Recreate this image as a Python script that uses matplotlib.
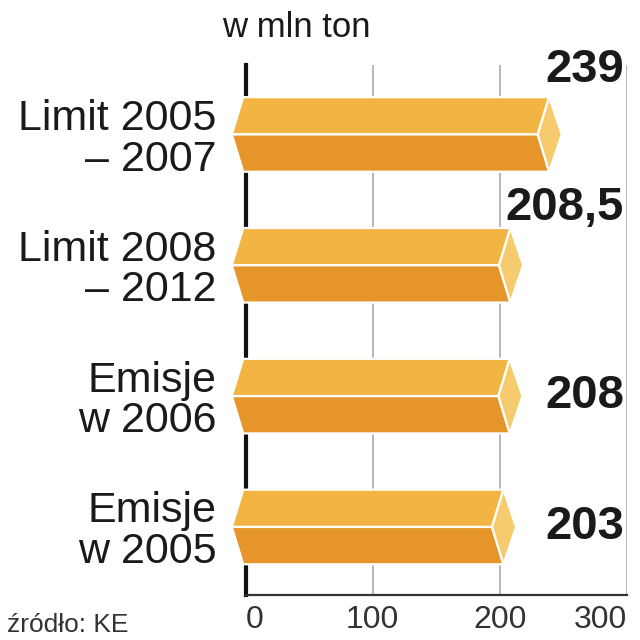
import matplotlib.pyplot as plt
from matplotlib.patches import Polygon

# dane
kategorie = ['Limit 2005\n– 2007', 'Limit 2008\n– 2012', 'Emisje\nw 2006', 'Emisje\nw 2005']
wartosci = [239, 208.5, 208, 203]
etykiety = ['239', '208,5', '208', '203']
ticki = [0, 100, 200, 300]

# kolory
jasny = '#F2B543'
ciemny = '#E6952A'
czolo = '#F6CB6E'

fig = plt.figure(figsize=(6.4, 6.4), dpi=100)
ax = fig.add_axes([0.384, 0.0703, 0.595, 0.828])

h = 0.285   # polowa wysokosci slupka
lt = 11     # szpic z lewej
rt = 9      # wciecie / szpic z prawej
for i, v in enumerate(wartosci):
    gora = [(-lt, i), (-2, i - h), (v, i - h), (v - rt, i)]
    dol = [(-lt, i), (-2, i + h), (v, i + h), (v - rt, i)]
    koniec = [(v, i - h), (v + rt + 1, i), (v, i + h), (v - rt, i)]
    for pts, c in [(gora, jasny), (dol, ciemny), (koniec, czolo)]:
        ax.add_patch(Polygon(pts, closed=True, facecolor=c, edgecolor='white',
                             linewidth=1.6, zorder=3, clip_on=False))

# etykiety wartosci: dwie pierwsze nad slupkiem
przes = [-0.49, -0.44, 0, 0]
for i, (t, dy) in enumerate(zip(etykiety, przes)):
    ax.text(298, i + dy, t, ha='right', va='center', fontsize=34,
            fontweight='bold', family='Liberation Sans', color='#1a1a1a', zorder=4)

ax.set_xlim(0, 300)
ax.set_ylim(3.52, -0.53)
ax.set_yticks(range(len(kategorie)))
ax.set_yticklabels(kategorie, fontsize=31, family='Liberation Sans',
                   color='#1a1a1a', linespacing=1.02, ha='right')
ax.tick_params(axis='y', length=0, pad=21)
ax.set_xticks(ticks=ticki)
ax.set_xticklabels([str(t) for t in ticki], fontsize=23,
                   family='Liberation Sans', color='#333333')
ax.tick_params(axis='x', length=0, pad=7)
for lab, ha in zip(ax.get_xticklabels(), ['left', 'center', 'center', 'right']):
    lab.set_ha(ha)

for x in ticki[1:]:
    ax.axvline(x, color='#aaaaaa', linewidth=1.2, zorder=1)
for s in ['top', 'right']:
    ax.spines[s].set_visible(False)
ax.spines['left'].set_linewidth(3)
ax.spines['left'].set_color('#111111')
ax.spines['bottom'].set_linewidth(1.6)
ax.spines['bottom'].set_color('#333333')

fig.text(222 / 640, 1 - 37 / 640, 'w mln ton', fontsize=25, family='Liberation Sans',
         color='#1a1a1a', ha='left', va='baseline')
fig.text(7 / 640, 1 - 632 / 640, 'źródło: KE', fontsize=19, family='Liberation Sans',
         color='#333333', ha='left', va='baseline')

fig.savefig('out.png', dpi=100)
